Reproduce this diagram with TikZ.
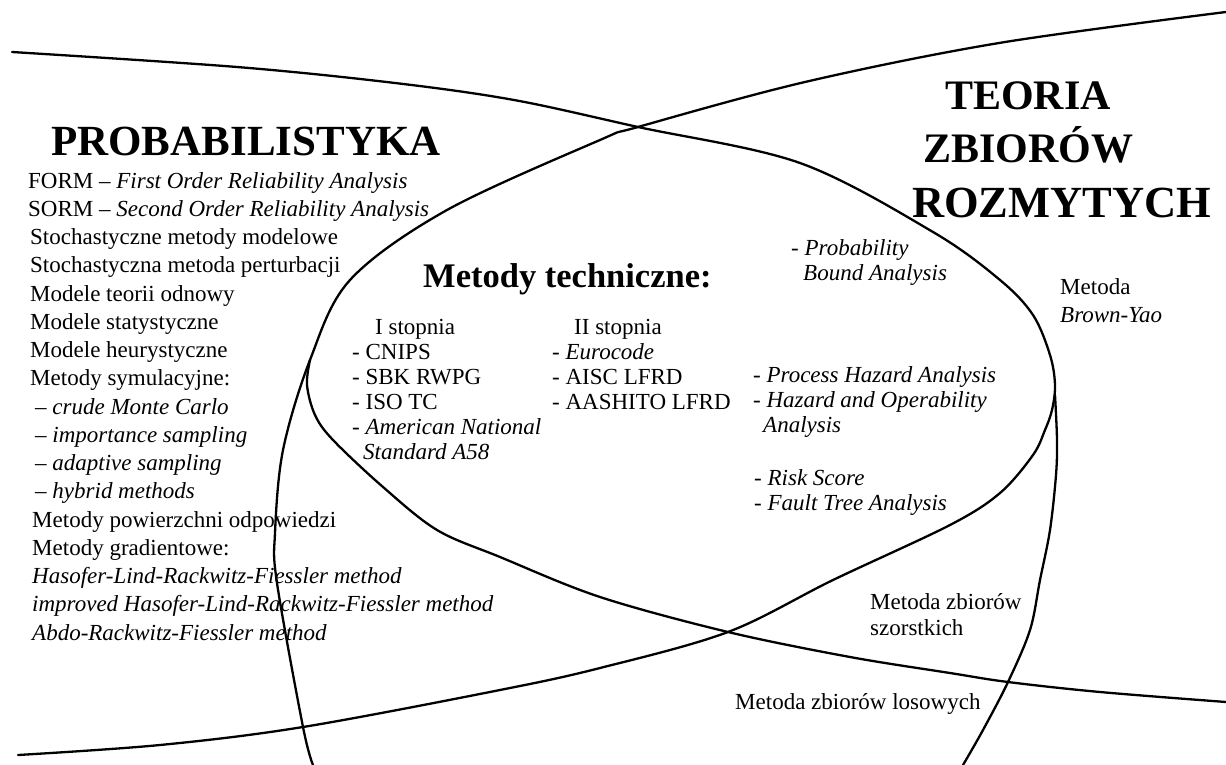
\documentclass[tikz,border=0pt]{standalone}
\usepackage{fontspec}
\setmainfont{Liberation Serif}
\begin{document}
\begin{tikzpicture}[x=1pt,y=-1pt,
  curve/.style={line width=2.3pt, line cap=round, line join=round},
  lt/.style={anchor=base west, inner sep=0pt, font=\fontsize{23}{28}\selectfont},
  bigtitle/.style={anchor=base west, inner sep=0pt, font=\fontsize{42}{50}\selectfont\bfseries},
  midtitle/.style={anchor=base west, inner sep=0pt, font=\fontsize{34.5}{40}\selectfont\bfseries}]
\useasboundingbox (0,0) rectangle (1226,765);
% curves
\draw[curve] plot[smooth, tension=0.55] coordinates {(12,52) (237,67) (395,83) (514,100) (638,127) (800,163) (933,232) (1000,280) (1033,315) (1050,355) (1055,385) (1052,410) (1045,430) (1033,455) (1000,493) (950,525) (833,580) (728,632) (600,668) (500,690) (303,727) (160,745) (18,755)};
\draw[curve] plot[smooth, tension=0.55] coordinates {(1226,12) (999,43) (805,82) (638,127) (600,140) (447,210) (350,280) (310,360) (283,450) (275,533) (277,583) (303,727) (313,765)};
\draw[curve] plot[smooth, tension=0.55] coordinates {(310,360) (307,385) (315,415) (333,440) (383,487) (437,530) (500,557) (600,597) (728,632) (850,657) (950,673) (1008,682) (1100,692) (1226,702)};
\draw[curve] plot[smooth, tension=0.55] coordinates {(1055,395) (1057,440) (1056,475) (1050,530) (1040,580) (1030,630) (1008,682) (983,730) (963,765)};
% titles
\node[bigtitle, font=\fontsize{43}{50}\selectfont\bfseries] (prob) at (51,155) {PROBABILISTYKA};
\node[bigtitle] (t1) at (945,110) {TEORIA};
\node[bigtitle] (t2) at (923,163) {ZBIORÓW};
\node[bigtitle, font=\fontsize{44.5}{50}\selectfont\bfseries] (t3) at (912,217) {ROZMYTYCH};
\node[midtitle] (mt) at (423,287) {Metody techniczne:};
% left list
\node[lt] (l0) at (28,188) {FORM -- \textit{First Order Reliability Analysis}};
\node[lt] (l1) at (28,216.25) {SORM -- \textit{Second Order Reliability Analysis}};
\node[lt] (l2) at (30,244.5) {Stochastyczne metody modelowe};
\node[lt] (l3) at (30,272.75) {Stochastyczna metoda perturbacji};
\node[lt] (l4) at (30,301) {Modele teorii odnowy};
\node[lt] (l5) at (30,329.25) {Modele statystyczne};
\node[lt] (l6) at (30,357.5) {Modele heurystyczne};
\node[lt] (l7) at (30,385.75) {Metody symulacyjne:};
\node[lt] (l8) at (35,414) {-- \textit{crude Monte Carlo}};
\node[lt] (l9) at (35,442.25) {-- \textit{importance sampling}};
\node[lt] (l10) at (35,470.5) {-- \textit{adaptive sampling}};
\node[lt] (l11) at (35,498.75) {-- \textit{hybrid methods}};
\node[lt] (l12) at (32,527) {Metody powierzchni odpowiedzi};
\node[lt] (l13) at (32,555.25) {Metody gradientowe:};
\node[lt] (l14) at (32,583.5) {\textit{Hasofer-Lind-Rackwitz-Fiessler method}};
\node[lt] (l15) at (32,611.75) {\textit{improved Hasofer-Lind-Rackwitz-Fiessler method}};
\node[lt] (l16) at (32,640) {\textit{Abdo-Rackwitz-Fiessler method}};
% first degree
\node[lt] (a0) at (375,334) {I stopnia};
\node[lt] (a1) at (352,359) {- CNIPS};
\node[lt] (a2) at (352,384) {- SBK RWPG};
\node[lt] (a3) at (352,409) {- ISO TC};
\node[lt] (a4) at (352,434) {- \textit{American National}};
\node[lt] (a5) at (363,459) {\textit{Standard A58}};
% second degree
\node[lt] (b0) at (574,334) {II stopnia};
\node[lt] (b1) at (552,359) {- \textit{Eurocode}};
\node[lt] (b2) at (552,384) {- AISC LFRD};
\node[lt] (b3) at (552,409) {- AASHITO LFRD};
% right column
\node[lt] (p0) at (791,255) {- \textit{Probability}};
\node[lt] (p1) at (803,280) {\textit{Bound Analysis}};
\node[lt] (c0) at (753,382) {- \textit{Process Hazard Analysis}};
\node[lt] (c1) at (753,407) {- \textit{Hazard and Operability}};
\node[lt] (c2) at (763,432) {\textit{Analysis}};
\node[lt] (c3) at (754,485) {- \textit{Risk Score}};
\node[lt] (c4) at (754,510) {- \textit{Fault Tree Analysis}};
% outer labels
\node[lt] (by0) at (1060,294) {Metoda};
\node[lt] (by1) at (1060,322) {\textit{Brown-Yao}};
\node[lt] (sz0) at (870,609) {Metoda zbiorów};
\node[lt] (sz1) at (870,635) {szorstkich};
\node[lt] (los) at (735,709) {Metoda zbiorów losowych};
\end{tikzpicture}
\end{document}
